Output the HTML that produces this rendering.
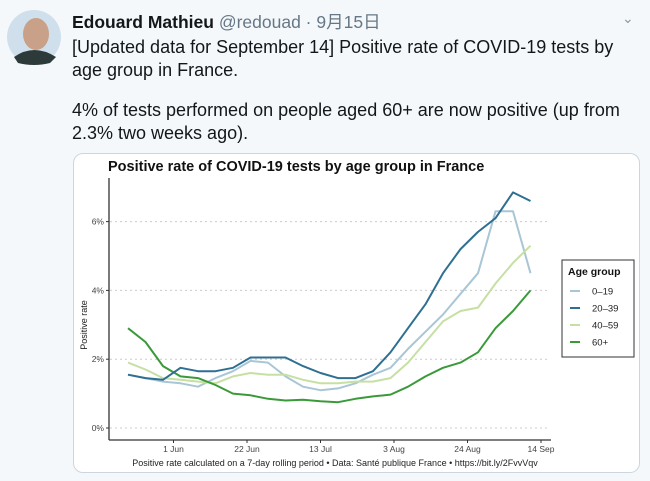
<!DOCTYPE html>
<html><head><meta charset="utf-8"><style>
body{margin:0;width:650px;height:481px;background:#f5f8fa;font-family:"Liberation Sans","Noto Sans CJK SC",sans-serif;overflow:hidden;position:relative}
.t{position:absolute;left:72px;font-size:18px;color:#14171a;white-space:nowrap;line-height:23px}
</style></head><body>
<svg style="position:absolute;left:6px;top:9px" width="56" height="56">
<circle cx="28" cy="28" r="27" fill="#cfe0ec"/><ellipse cx="30" cy="25" rx="13" ry="16" fill="#c9a088"/><path d="M8,48 Q28,34 50,48 L44,54 Q28,58 12,54Z" fill="#2d3a3a"/></svg>
<div class="t" style="top:11px;font-size:17.5px"><b>Edouard Mathieu</b> <span style="color:#657786">@redouad · 9月15日</span></div>
<div style="position:absolute;left:622px;top:10px;color:#8899a6;font-size:14px">⌄</div>
<div class="t" style="top:36px">[Updated data for September 14] Positive rate of COVID-19 tests by<br>age group in France.</div>
<div class="t" style="top:99px">4% of tests performed on people aged 60+ are now positive (up from<br>2.3% two weeks ago).</div>
<div style="position:absolute;left:73px;top:153px;width:565px;height:318px;background:#fff;border:1px solid #ccd6dd;border-radius:10px"></div>
<svg id="c" style="position:absolute;left:0;top:0" width="650" height="481" font-family="Liberation Sans, sans-serif"></svg>
<script>
const days=[0,5,10,15,20,25,30,35,40,45,50,55,60,65,70,75,80,85,90,95,100,105,110,115];
const s019=[1.55,1.45,1.35,1.3,1.2,1.45,1.65,1.95,1.9,1.5,1.2,1.1,1.15,1.3,1.55,1.75,2.3,2.8,3.3,3.9,4.5,6.3,6.3,4.5];
const s2039=[1.55,1.45,1.4,1.75,1.65,1.65,1.75,2.05,2.05,2.05,1.8,1.6,1.45,1.45,1.65,2.2,2.9,3.6,4.5,5.2,5.7,6.1,6.85,6.6];
const s4059=[1.9,1.7,1.45,1.4,1.35,1.3,1.5,1.6,1.55,1.55,1.4,1.3,1.3,1.35,1.35,1.45,1.9,2.5,3.1,3.4,3.5,4.2,4.8,5.3];
const s60=[2.9,2.5,1.8,1.5,1.45,1.25,1.0,0.95,0.85,0.8,0.82,0.78,0.75,0.85,0.92,0.97,1.2,1.5,1.75,1.9,2.2,2.9,3.4,4.0];
const yTicks=[0,2,4,6];
const xTickLabels=["1 Jun","22 Jun","13 Jul","3 Aug","24 Aug","14 Sep"];
const xTickDays=[13,34,55,76,97,118];
const names=["0–19","20–39","40–59","60+"];
const cols=["#a9c6d6","#2f6f92","#c6e0a4","#3a9a3a"];
const X=d=>128+d*3.5, Y=v=>428-v*34.4;
const svg=document.getElementById('c');
function el(t,a,txt){const e=document.createElementNS('http://www.w3.org/2000/svg',t);for(const k in a)e.setAttribute(k,a[k]);if(txt!=null)e.textContent=txt;svg.appendChild(e);return e;}
let e=el('text',{x:108,y:171,'font-size':14.5,'font-weight':'bold',fill:'#111'},'Positive rate of COVID-19 tests by age group in France');


yTicks.forEach(v=>{
 let g=el('line',{x1:110,x2:550,y1:Y(v),y2:Y(v),stroke:'#ccc','stroke-dasharray':'2,3'});
 
 
 el('line',{x1:106,x2:109,y1:Y(v),y2:Y(v),stroke:'#333'});
 let t=el('text',{x:104,y:Y(v)+3,'font-size':8.5,'text-anchor':'end',fill:'#444'},v+'%');
 
 
});
el('line',{x1:109,x2:109,y1:178,y2:440,stroke:'#333','stroke-width':1.3});
el('line',{x1:109,x2:551,y1:440,y2:440,stroke:'#333','stroke-width':1.3});
xTickDays.forEach((d,i)=>{
 el('line',{x1:X(d),x2:X(d),y1:440,y2:443,stroke:'#333'});
 let t=el('text',{x:X(d),y:452,'font-size':8.5,'text-anchor':'middle',fill:'#444'},xTickLabels[i]);
 
 
});
e=el('text',{x:87,y:325,'font-size':9,'text-anchor':'middle',fill:'#222',transform:'rotate(-90 87 325)'},'Positive rate');


e=el('text',{x:335,y:466,'font-size':9,'text-anchor':'middle',fill:'#222'},'Positive rate calculated on a 7-day rolling period • Data: Santé publique France • https://bit.ly/2FvvVqv');


[s019,s4059,s60,s2039].forEach((s,k)=>{
 const idx=[0,2,3,1][k];
 let p=el('path',{d:s.map((v,i)=>(i?'L':'M')+X(days[i]).toFixed(1)+','+Y(v).toFixed(1)).join(''),fill:'none',stroke:cols[idx],'stroke-width':2,'stroke-linejoin':'round'});
 
 
});
e=el('rect',{x:562,y:260,width:72,height:97,fill:'#fff',stroke:'#333','stroke-width':1});


el('text',{x:568,y:275,'font-size':10.5,'font-weight':'bold',fill:'#111'},'Age group');
names.forEach((n,i)=>{
 const y=291+i*17;
 el('line',{x1:570,x2:580,y1:y,y2:y,stroke:cols[i],'stroke-width':2});
 let t=el('text',{x:592,y:y+3.5,'font-size':9.5,fill:'#222'},n);
 
 
});
</script>
</body></html>
